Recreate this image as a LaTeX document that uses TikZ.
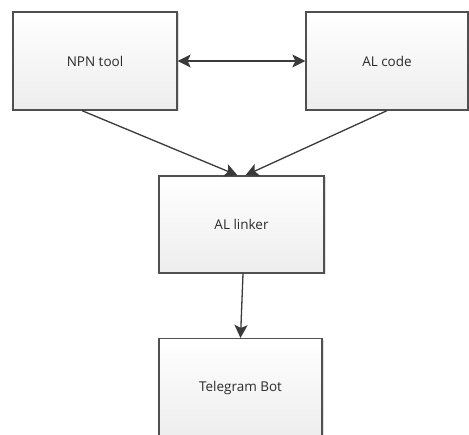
\documentclass[tikz,border=0pt]{standalone}
\usepackage{fontspec}
\setmainfont{Open Sans}
\usetikzlibrary{arrows.meta,shadows}
\definecolor{boxline}{HTML}{505050}
\definecolor{txt}{HTML}{2A2A2A}
\definecolor{arrowc}{HTML}{3A3A3A}
\tikzset{
  blockbox/.style={draw=boxline, line width=1.3pt, rectangle,
    top color=white, bottom color=black!7,
    drop shadow={shadow xshift=1.5pt, shadow yshift=-1.5pt, fill=black!20, opacity=0.6},
    text=txt, font=\fontsize{13.5}{15}\selectfont, inner sep=0pt},
  conn/.style={draw=arrowc, line width=1.3pt, -{Stealth[length=13pt,width=13pt,inset=3pt]}},
  bconn/.style={draw=arrowc, line width=1.3pt, {Stealth[length=13pt,width=13pt,inset=3pt]}-{Stealth[length=13pt,width=13pt,inset=3pt]}}
}
\begin{document}
\begin{tikzpicture}[x=1pt,y=-1pt]
\useasboundingbox (0,0) rectangle (469,435);
\clip (0,0) rectangle (469,435);
\fill[white] (0,0) rectangle (469,435);
\node[blockbox, minimum width=164pt, minimum height=98pt] (npn) at (95,61) {NPN tool};
\node[blockbox, minimum width=162pt, minimum height=98pt] (alc) at (387,61) {AL code};
\node[blockbox, minimum width=165pt, minimum height=97pt] (all) at (241.5,224.5) {AL linker};
\node[blockbox, minimum width=163pt, minimum height=100pt, anchor=north] (tg) at (240.5,338) {};
\node[text=txt, font=\fontsize{13.5}{15}\selectfont] (tgl) at (240.5,388) {Telegram Bot};
\draw[bconn] (npn.east) -- (alc.west);
\draw[conn] ([xshift=-13pt]npn.south) -- ([xshift=-4pt]all.north);
\draw[conn] (alc.south) -- ([xshift=4pt]all.north);
\draw[conn] ([xshift=1.5pt]all.south) -- (tg.north);
\end{tikzpicture}
\end{document}
